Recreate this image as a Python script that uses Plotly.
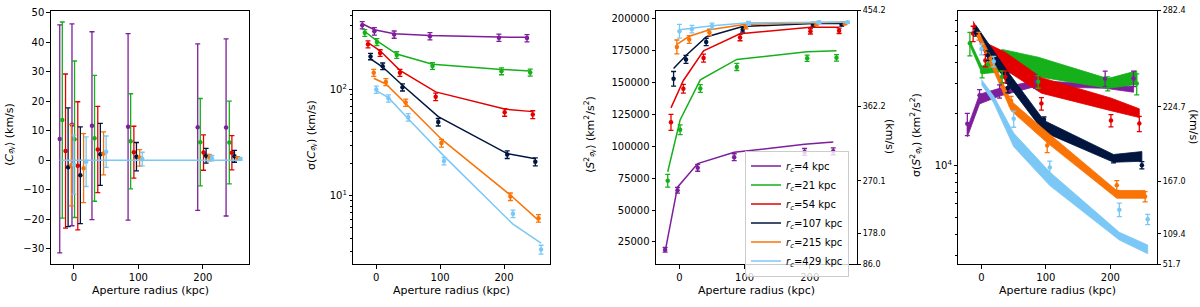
import math
import plotly.graph_objects as go

# ---------------- data ----------------
rc_kpc = ["4", "21", "54", "107", "215", "429"]
colors = ["#7e1e9c", "#15b01a", "#e50000", "#01153e", "#f97306", "#7bc8f6"]

# aperture radius (kpc) of each plotted point, per series (series are offset for clarity)
ap_purple = [-22, -3, 28, 84, 192, 236]
ap_green = [-18, 1, 32, 88, 196, 241]
ap_red = [-13, 6, 37, 93, 201, 245]
ap_navy = [-9, 10, 41, 97, 205, 249]
ap_orange = [-4, 15, 46, 102, 210, 254]
ap_blue = [0, 19, 50, 106, 214, 258]
apertures = [ap_purple, ap_green, ap_red, ap_navy, ap_orange, ap_blue]

# panel 1: <C_W> (km/s)
cw_mean = [
    [7.2, 12.0, 11.7, 11.3, 11.2, 11.1],
    [13.6, 7.1, 7.4, 6.4, 6.1, 6.0],
    [3.1, -1.9, 3.6, 2.7, 2.6, 2.5],
    [-2.4, -5.1, 2.0, 1.2, 1.5, 1.3],
    [-1.7, -2.7, 2.3, 0.8, 0.9, 0.6],
    [-1.5, -0.5, 2.9, 0.4, 0.7, 0.4],
]
cw_err = [
    [38.6, 34.2, 31.8, 31.6, 28.2, 30.0],
    [33.2, 26.5, 21.3, 16.1, 14.8, 14.0],
    [26.1, 21.7, 14.6, 8.8, 6.0, 5.8],
    [20.1, 16.4, 10.5, 4.8, 2.5, 2.0],
    [13.8, 11.7, 7.3, 2.8, 1.1, 0.6],
    [10.0, 8.4, 5.3, 2.3, 0.9, 0.4],
]
cw_model_x = [-22, 258]
cw_model_y = [0, 0]

# panel 2: sigma(C_W) (km/s)
sc_pts = [
    [404, 354, 330, 318, 308, 305],
    [342, 281, 212, 167, 149, 145],
    [267, 221, 144, 85.8, 61.2, 58.3],
    [205, 166, 105, 49.5, 24.5, 21.0],
    [144, 118, 75.5, 31.4, 9.86, 6.17],
    [100, 82.8, 55.0, 21.3, 6.8, 3.14],
]
sc_err = [
    [32, 28, 26, 25, 24, 24],
    [25, 21, 15, 12, 11, 11],
    [20, 16, 11, 7, 5, 5],
    [14, 12, 8, 4, 2, 1.8],
    [11, 9, 6, 2.6, 0.8, 0.5],
    [8, 6.5, 4.4, 1.7, 0.55, 0.3],
]
sc_model = [
    [416, 366, 336, 323, 312, 310],
    [352, 287, 216, 173, 155, 150],
    [277, 232, 152, 95.2, 65.6, 62.1],
    [195, 163, 110, 55.8, 25.0, 22.4],
    [128, 113, 74, 34.2, 10.2, 5.9],
    [98, 84, 53.2, 23.7, 5.43, 3.61],
]

# panel 3: <S^2_W> (km^2/s^2)
s2_pts = [
    [18900, 65500, 83100, 91400, 95500, 96000],
    [72960, 112900, 145200, 162100, 168900, 169200],
    [118700, 145000, 169000, 185100, 190000, 190400],
    [152800, 168000, 181600, 191200, 195500, 195500],
    [177800, 183600, 189100, 193700, 195700, 196200],
    [190000, 191700, 194200, 196200, 197000, 197000],
]
s2_err = [
    [1900, 2300, 2700, 2700, 2700, 2700],
    [5000, 3800, 3100, 2800, 2500, 2500],
    [6300, 3500, 3100, 2500, 2100, 2100],
    [5700, 3100, 2800, 1900, 1500, 1500],
    [5400, 3000, 2500, 1800, 1300, 1000],
    [5400, 3000, 2200, 1500, 1000, 800],
]
s2_model = [
    [17500, 67900, 86400, 95200, 101500, 103300],
    [80000, 120500, 152000, 168000, 174000, 174700],
    [130000, 151500, 174700, 188100, 193200, 193200],
    [160900, 171000, 185600, 193700, 196200, 196200],
    [179800, 186100, 191200, 195500, 196700, 197000],
    [191200, 192200, 194400, 196700, 197000, 197200],
]
p3_right_ticks = [86.0, 178.0, 270.1, 362.2, 454.2]

# panel 4: sigma(S^2_W) (km^2/s^2)
ss_pts = [
    [17550, 25700, 27080, 30800, 32150, 32150],
    [51450, 35150, 32920, 30800, 30000, 30000],
    [58600, 40900, 32900, 22960, 18330, 17580],
    [59650, 43650, 28300, 18500, 10900, 10080],
    [56600, 40000, 23770, 13130, 7700, 6620],
    [47600, 40360, 18740, 9780, 5560, 4884],
]
ss_err = [
    [2600, 2000, 2400, 2600, 3300, 3300],
    [8000, 2800, 2600, 2600, 2800, 4200],
    [6000, 3300, 2600, 1900, 1500, 1800],
    [3000, 2800, 1800, 700, 500, 500],
    [3000, 2600, 1500, 1200, 500, 450],
    [3500, 2800, 2000, 850, 500, 330],
]
ss_band_hi = [
    [16520, 26050, 28170, 31250, 29670, 28910],
    [53290, 37500, 47390, 42720, 32080, 35600],
    [69130, 51920, 45590, 32500, 24730, 21430],
    [65610, 51920, 35140, 18330, 11630, 12090],
    [59140, 42720, 23780, 15680, 7185, 7185],
    [31660, 25380, 15480, 9200, 4107, 3467],
]
ss_band_lo = [
    [14700, 22870, 25380, 28910, 28170, 26740],
    [49940, 34240, 35140, 32920, 28170, 29670],
    [63920, 44420, 36070, 26390, 20880, 19060],
    [60700, 45590, 29670, 15680, 10480, 10620],
    [54690, 38480, 20880, 13600, 6475, 6475],
    [29670, 23170, 12900, 7670, 3701, 3085],
]
p4_right_ticks = [51.7, 109.4, 167.0, 224.7, 282.4]

x_ticks = [0, 100, 200]

# ---------------- figure ----------------
W, H = 1200, 307
FONT = "DejaVu Sans"
fig = go.Figure()


def errbar(arr, col):
    return dict(type="data", array=arr, color=col, thickness=1.3, width=2.5)


# panel 1
for i in range(6):
    fig.add_trace(go.Scatter(
        x=apertures[i], y=cw_mean[i], mode="markers",
        marker=dict(color=colors[i], size=4.5),
        error_y=errbar(cw_err[i], colors[i]),
        xaxis="x", yaxis="y", showlegend=False))
fig.add_trace(go.Scatter(
    x=cw_model_x, y=cw_model_y, mode="lines",
    line=dict(color=colors[5], width=1.5),
    xaxis="x", yaxis="y", showlegend=False))

# panel 2
for i in range(6):
    fig.add_trace(go.Scatter(
        x=apertures[i], y=sc_model[i], mode="lines",
        line=dict(color=colors[i], width=1.5),
        xaxis="x2", yaxis="y2", showlegend=False))
    fig.add_trace(go.Scatter(
        x=apertures[i], y=sc_pts[i], mode="markers",
        marker=dict(color=colors[i], size=4.5),
        error_y=errbar(sc_err[i], colors[i]),
        xaxis="x2", yaxis="y2", showlegend=False))

# panel 3
for i in range(6):
    fig.add_trace(go.Scatter(
        x=apertures[i], y=s2_model[i], mode="lines",
        line=dict(color=colors[i], width=1.5),
        name="<i>r</i><sub><i>c</i></sub>=" + rc_kpc[i] + " kpc",
        xaxis="x3", yaxis="y3", showlegend=True))
    fig.add_trace(go.Scatter(
        x=apertures[i], y=s2_pts[i], mode="markers",
        marker=dict(color=colors[i], size=4.5),
        error_y=errbar(s2_err[i], colors[i]),
        xaxis="x3", yaxis="y3", showlegend=False))
# empty trace so the right-hand (km/s) axis is drawn
fig.add_trace(go.Scatter(x=[], y=[], mode="markers", xaxis="x3", yaxis="y5",
                         showlegend=False, hoverinfo="skip"))

# panel 4: bands then points
for i in range(6):
    fig.add_trace(go.Scatter(
        x=apertures[i] + apertures[i][::-1],
        y=ss_band_hi[i] + ss_band_lo[i][::-1],
        mode="lines", fill="toself", fillcolor=colors[i],
        line=dict(color=colors[i], width=0.8),
        xaxis="x4", yaxis="y4", showlegend=False))
for i in range(6):
    fig.add_trace(go.Scatter(
        x=apertures[i], y=ss_pts[i], mode="markers",
        marker=dict(color=colors[i], size=4.5),
        error_y=errbar(ss_err[i], colors[i]),
        xaxis="x4", yaxis="y4", showlegend=False))
fig.add_trace(go.Scatter(x=[], y=[], mode="markers", xaxis="x4", yaxis="y6",
                         showlegend=False, hoverinfo="skip"))

# ---------------- axes ----------------
ydom = [(H - 268.3) / H, (H - 6.7) / H]
tickfont = dict(family=FONT, size=10, color="black")
smalltick = dict(family=FONT, size=8, color="black")
titlefont = dict(family=FONT, size=11, color="black")


def xax(x0, x1, anchor):
    return dict(domain=[x0 / W, x1 / W], anchor=anchor, range=[-36, 272],
                tickvals=x_ticks, ticks="outside", ticklen=3.5, tickwidth=0.8,
                tickcolor="black", showline=True, linecolor="black", linewidth=0.8,
                mirror=True, showgrid=False, zeroline=False, tickfont=tickfont)


def yax(anchor, **kw):
    d = dict(domain=ydom, anchor=anchor, ticks="outside", ticklen=3.5, tickwidth=0.8,
             tickcolor="black", showline=True, linecolor="black", linewidth=0.8,
             mirror=True, showgrid=False, zeroline=False, tickfont=tickfont)
    d.update(kw)
    return d


def yright(anchor, over, rng, vals):
    return dict(domain=ydom, anchor=anchor, overlaying=over, side="right",
                range=rng, tickvals=[v ** 2 for v in vals],
                ticktext=["%.1f" % v for v in vals],
                ticks="outside", ticklen=3.5, tickwidth=0.8, tickcolor="black",
                showline=True, linecolor="black", linewidth=0.8, showgrid=False,
                zeroline=False, tickfont=smalltick)


p2_minor = [3, 4, 5, 6, 7, 8, 9, 20, 30, 40, 50, 60, 70, 80, 90, 200, 300, 400, 500]
p4_minor = [3000, 4000, 5000, 6000, 7000, 8000, 9000, 20000, 30000, 40000, 50000, 60000, 70000]
minor_style = dict(ticks="outside", ticklen=2, tickwidth=0.6, tickcolor="black")

p3_lo, p3_hi = p3_right_ticks[0] ** 2, p3_right_ticks[-1] ** 2
p4_lo, p4_hi = p4_right_ticks[0] ** 2, p4_right_ticks[-1] ** 2


def label(text, X, Y, angle=0):
    return dict(text=text, x=X / W, y=1 - Y / H, xref="paper", yref="paper",
                xanchor="center", yanchor="middle", showarrow=False,
                textangle=angle, font=titlefont)


annotations = [
    label("Aperture radius (kpc)", 150, 295),
    label("Aperture radius (kpc)", 451.7, 295),
    label("Aperture radius (kpc)", 756.3, 295),
    label("Aperture radius (kpc)", 1057.5, 295),
    label("⟨<i>C</i><sub>𝒲</sub>⟩ (km/s)", 10, 135, -90),
    label("σ(<i>C</i><sub>𝒲</sub>) (km/s)", 312, 135, -90),
    label("⟨<i>S</i><sup>2</sup><sub>𝒲</sub>⟩ (km<sup>2</sup>/s<sup>2</sup>)", 590, 135, -90),
    label("σ(<i>S</i><sup>2</sup><sub>𝒲</sub>) (km<sup>2</sup>/s<sup>2</sup>)", 916, 135, -90),
    label("(km/s)", 890, 136, 90),
    label("(km/s)", 1194, 126, 90),
]

fig.update_layout(
    width=W, height=H, margin=dict(l=0, r=0, t=0, b=0),
    paper_bgcolor="white", plot_bgcolor="white",
    font=dict(family=FONT, size=10, color="black"),
    xaxis=xax(50.7, 249.3, "y"),
    xaxis2=xax(353.3, 550.0, "y2"),
    xaxis3=xax(656.0, 856.7, "y3"),
    xaxis4=xax(958.3, 1156.7, "y4"),
    yaxis=yax("x", range=[-35.3, 50.7], tickvals=[-30, -20, -10, 0, 10, 20, 30, 40, 50]),
    yaxis2=yax("x2", type="log", range=[0.356, 2.744], tickvals=[10, 100],
               ticktext=["10<sup>1</sup>", "10<sup>2</sup>"],
               minor=dict(tickvals=p2_minor, **minor_style)),
    yaxis3=yax("x3", range=[p3_lo, p3_hi],
               tickvals=[25000, 50000, 75000, 100000, 125000, 150000, 175000, 200000],
               tickformat="d"),
    yaxis5=yright("x3", "y3", [p3_lo, p3_hi], p3_right_ticks),
    yaxis4=yax("x4", type="log", range=[math.log10(p4_lo), math.log10(p4_hi)],
               tickvals=[10000], ticktext=["10<sup>4</sup>"],
               minor=dict(tickvals=p4_minor, **minor_style)),
    yaxis6=yright("x4", "y4", [p4_lo, p4_hi], p4_right_ticks),
    legend=dict(x=745 / W, y=1 - 151 / H, xanchor="left", yanchor="top",
                bgcolor="rgba(255,255,255,0.8)", bordercolor="#cccccc", borderwidth=1,
                font=dict(family=FONT, size=10, color="black"), tracegroupgap=0,
                itemwidth=30),
    annotations=annotations,
)

fig.write_html("out.html", config={"displayModeBar": False},
               post_script="document.body.style.margin='0';")
